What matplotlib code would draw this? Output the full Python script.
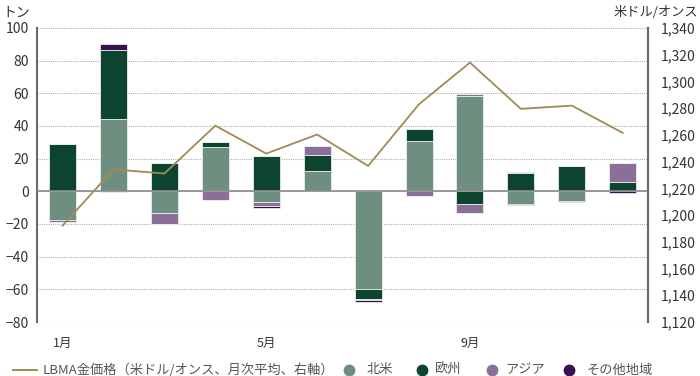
import numpy as np
import matplotlib
matplotlib.use("Agg")
import matplotlib.pyplot as plt
from matplotlib.lines import Line2D

plt.rcParams['font.family'] = ['Noto Sans CJK JP', 'DejaVu Sans']

months = ["1月", "", "", "", "5月", "", "", "", "9月", "", "", ""]

# tons, split into positive / negative parts per region
na_pos = [0, 44.3, 0, 27.2, 0, 12.2, 0, 30.8, 58.5, 0, 0, 0]
eu_pos = [29.2, 42.2, 17.4, 3.0, 21.4, 9.8, 0, 7.4, 0, 11.5, 15.7, 5.6]
as_pos = [0, 0, 0, 0.3, 0, 6.0, 0, 0, 0.9, 0.5, 0, 11.9]
ot_pos = [0, 3.4, 0, 0, 0, 0, 0, 0, 0, 0, 0, 0]

na_neg = [-17.8, 0, -13.2, 0, -6.5, 0, -59.5, 0, 0, -7.8, -6.0, 0]
eu_neg = [0, 0, 0, 0, 0, 0, -6.5, 0, -8.0, 0, 0, 0]
as_neg = [-1.0, -0.6, -6.8, -5.1, -2.3, 0, -0.6, -3.0, -5.5, 0, 0, 0]
ot_neg = [0, 0, 0, 0, -1.2, 0, -0.9, 0, 0, -0.5, -0.5, -1.0]

gold = [1192.1, 1234.2, 1231.1, 1266.9, 1246.0, 1260.3,
        1236.8, 1283.0, 1314.1, 1279.5, 1281.9, 1261.5]

c_na = "#6e8f80"
c_eu = "#0d4430"
c_as = "#8a7099"
c_ot = "#3a1150"
c_gold = "#a08a55"

W, H = 700, 376
fig = plt.figure(figsize=(7, 3.76), dpi=100)
ax = fig.add_axes([0.053, 0.1436, 0.873, 0.782])
x = np.arange(len(months))
w = 0.53

def stack(vals_list, colors):
    base = np.zeros(len(months))
    for vals, col in zip(vals_list, colors):
        v = np.array(vals)
        ax.bar(x, v, w, bottom=base, color=col, edgecolor="#e8eee9",
               linewidth=0.6, zorder=3)
        base = base + v

stack([na_pos, eu_pos, as_pos, ot_pos], [c_na, c_eu, c_as, c_ot])
stack([na_neg, eu_neg, as_neg, ot_neg], [c_na, c_eu, c_as, c_ot])

ax.set_ylim(-80, 100)
ax.set_yticks(np.arange(-80, 101, 20))
ax.set_xlim(-0.5, 11.5)
ax.set_xticks(x)
ax.set_xticklabels(months, fontsize=9, color="#333333")
ax.tick_params(axis="x", length=0, pad=11)
ax.tick_params(axis="y", length=0, labelsize=10, labelcolor="#333333", pad=6)
ax.grid(axis="y", color="#b0b0b0", linestyle=(0, (1, 1)), linewidth=0.8, zorder=0)
ax.axhline(0, color="#8a8a8a", linewidth=1.2, zorder=4)
for s in ["top", "bottom"]:
    ax.spines[s].set_visible(False)
ax.spines["left"].set_color("#6a6a6a")
ax.spines["left"].set_linewidth(1.5)
ax.spines["right"].set_color("#6a6a6a")
ax.spines["right"].set_linewidth(1.5)

ax2 = ax.twinx()
ax2.plot(x, gold, color=c_gold, linewidth=1.3, zorder=5)
ax2.set_ylim(1120, 1340)
ax2.set_yticks(np.arange(1120, 1341, 20))
ax2.set_yticklabels([f"{v:,}" for v in range(1120, 1341, 20)])
ax2.tick_params(axis="y", length=0, labelsize=10, labelcolor="#333333", pad=9)
for s in ["top", "bottom", "left"]:
    ax2.spines[s].set_visible(False)
ax2.spines["right"].set_color("#6a6a6a")
ax2.spines["right"].set_linewidth(1.5)

fig.text(0.003, 0.985, "トン", fontsize=10, color="#333333", va="top")
fig.text(0.998, 0.985, "米ドル/オンス", fontsize=9.5, color="#333333", va="top", ha="right")

# legend, laid out by hand
ly = 1 - 370 / H
fig.add_artist(Line2D([13 / W, 37 / W], [ly, ly], color=c_gold, linewidth=1.4))
fig.text(43 / W, ly, "LBMA金価格（米ドル/オンス、月次平均、右軸）", fontsize=9.5,
         color="#555555", va="center")
legend_items = [("北米", c_na, 349, 367), ("欧州", c_eu, 422, 435),
                ("アジア", c_as, 492, 505), ("その他地域", c_ot, 569, 587)]
for name, col, cx, tx in legend_items:
    fig.add_artist(Line2D([cx / W], [ly], marker="o", markersize=7.5,
                          color=col, linestyle=""))
    fig.text(tx / W, ly, name, fontsize=9.5, color="#555555", va="center")

fig.savefig("out.png", dpi=100)
